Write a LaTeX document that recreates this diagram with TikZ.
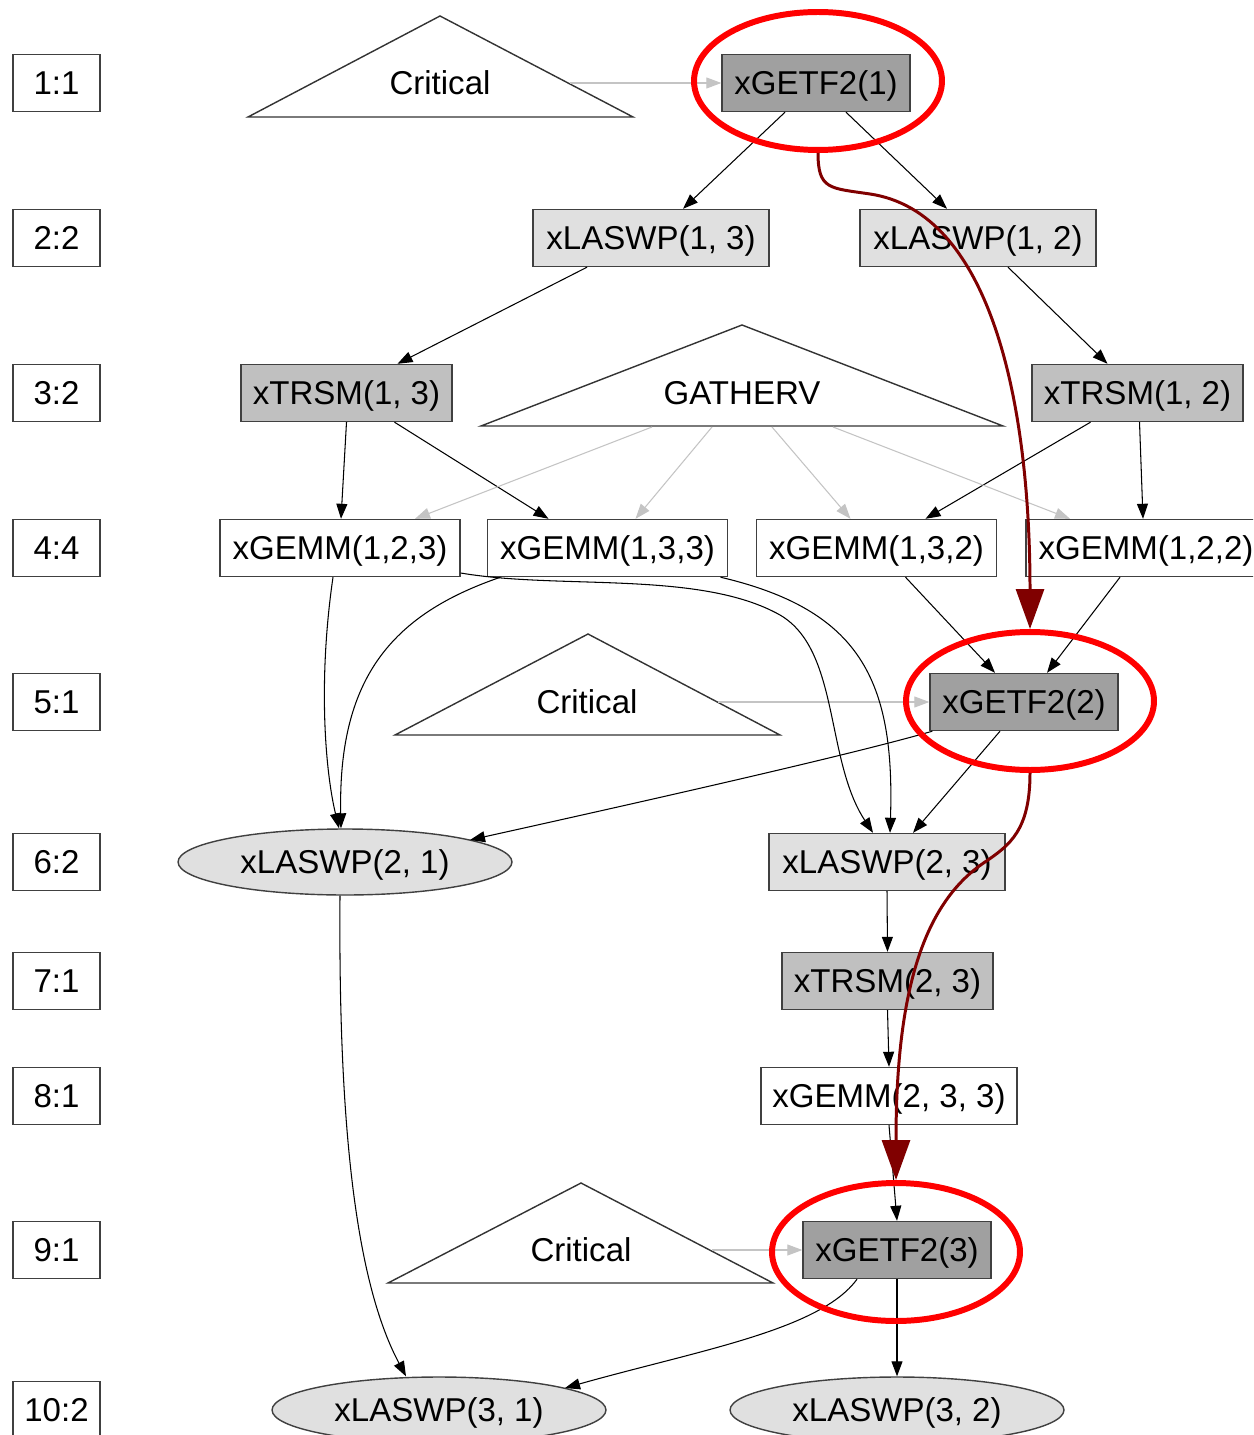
\documentclass[tikz,border=0pt]{standalone}
\usepackage{fontspec}
\setmainfont{Liberation Sans}
\usetikzlibrary{arrows.meta,calc,shapes.geometric}

\definecolor{getfgray}{HTML}{A0A0A0}
\definecolor{trsmgray}{HTML}{C0C0C0}
\definecolor{laswpgray}{HTML}{E0E0E0}
\definecolor{ghost}{HTML}{C4C4C4}
\definecolor{pathred}{HTML}{800000}

\begin{document}
\begin{tikzpicture}[x=0.02cm,y=-0.02cm,
  font=\fontsize{18.8pt}{22pt}\selectfont,
  every node/.style={text height=17.3pt, text depth=3.8pt},
  task/.style={draw=black!75, line width=0.8pt, rectangle, inner sep=0pt, minimum height=1.14cm},
  getf/.style={task, fill=getfgray, minimum width=3.76cm},
  laswpbox/.style={task, fill=laswpgray, minimum width=4.72cm},
  laswpell/.style={draw=black!75, line width=0.8pt, ellipse, fill=laswpgray, inner sep=0pt,
                   minimum width=6.68cm, minimum height=1.32cm},
  trsm/.style={task, fill=trsmgray, minimum width=4.22cm},
  gemm/.style={task, fill=white, minimum width=4.8cm},
  rowlabel/.style={task, fill=white, minimum width=1.74cm},
  tri/.style={draw=black!80, line width=0.8pt},
  edge/.style={black, line width=0.6pt, -{Triangle[length=0.3cm,width=0.22cm]}},
  ghostedge/.style={edge, ghost},
  ring/.style={draw=red, line width=3.4pt, ellipse, inner sep=0pt,
               minimum width=4.96cm, minimum height=2.76cm},
  critpath/.style={pathred, line width=1.7pt, -{Triangle[length=0.8cm,width=0.56cm]}}]

\useasboundingbox (0,0) rectangle (1253,1435);
\clip (0,0) rectangle (1253,1435);
\fill[white] (0,0) rectangle (1253,1435);

% level labels
\node[rowlabel] (r1) at (56.5,83) {1:1};
\node[rowlabel] (r2) at (56.5,238) {2:2};
\node[rowlabel] (r3) at (56.5,393) {3:2};
\node[rowlabel] (r4) at (56.5,548) {4:4};
\node[rowlabel] (r5) at (56.5,702) {5:1};
\node[rowlabel] (r6) at (56.5,862) {6:2};
\node[rowlabel] (r7) at (56.5,981) {7:1};
\node[rowlabel] (r8) at (56.5,1096) {8:1};
\node[rowlabel] (r9) at (56.5,1250) {9:1};
\node[rowlabel] (r10) at (56.5,1410) {10:2};

% triangle markers
\node (crit1) at (440,83) {Critical};
\draw[tri] ($(crit1)+(0,-67)$) -- ($(crit1)+(193,34)$) -- ($(crit1)+(-192,34)$) -- cycle;
\node (gatherv) at (742,393) {GATHERV};
\draw[tri] ($(gatherv)+(0,-68)$) -- ($(gatherv)+(261,33)$) -- ($(gatherv)+(-261,33)$) -- cycle;
\node (crit2) at (587,702) {Critical};
\draw[tri] ($(crit2)+(1,-68)$) -- ($(crit2)+(193,33)$) -- ($(crit2)+(-192,33)$) -- cycle;
\node (crit3) at (581,1250) {Critical};
\draw[tri] ($(crit3)+(0,-67)$) -- ($(crit3)+(192,33)$) -- ($(crit3)+(-193,33)$) -- cycle;

% tasks
\node[getf] (getf1) at (816,83) {xGETF2(1)};
\node[laswpbox] (laswp13) at (651,238) {xLASWP(1, 3)};
\node[laswpbox] (laswp12) at (978,238) {xLASWP(1, 2)};
\node[trsm] (trsm13) at (346.5,393) {xTRSM(1, 3)};
\node[trsm] (trsm12) at (1137.5,393) {xTRSM(1, 2)};
\node[gemm] (gemm123) at (340,548) {xGEMM(1,2,3)};
\node[gemm] (gemm133) at (607.5,548) {xGEMM(1,3,3)};
\node[gemm] (gemm132) at (876.5,548) {xGEMM(1,3,2)};
\node[gemm] (gemm122) at (1146,548) {xGEMM(1,2,2)};
\node[getf] (getf2) at (1024,702) {xGETF2(2)};
\node[laswpell] (laswp21) at (345,862) {xLASWP(2, 1)};
\node[laswpbox] (laswp23) at (887,862) {xLASWP(2, 3)};
\node[trsm] (trsm23) at (887.5,981) {xTRSM(2, 3)};
\node[gemm, minimum width=5.12cm] (gemm233) at (889,1096) {xGEMM(2, 3, 3)};
\node[getf] (getf3) at (897,1250) {xGETF2(3)};
\node[laswpell] (laswp31) at (439,1410) {xLASWP(3, 1)};
\node[laswpell] (laswp32) at (897,1410) {xLASWP(3, 2)};

% dependencies
\draw[edge] ($(getf1.south)+(-31,0)$) -- ($(laswp13.north)+(32,0)$);
\draw[edge] ($(getf1.south)+(30,0)$) -- ($(laswp12.north)+(-31,0)$);
\draw[edge] ($(laswp13.south)+(-64,0)$) -- ($(trsm13.north)+(51,0)$);
\draw[edge] ($(laswp12.south)+(30,0)$) -- ($(trsm12.north)+(-30,0)$);
\draw[edge] (trsm13.south) -- ($(gemm123.north)+(1,0)$);
\draw[edge] ($(trsm13.south)+(48,0)$) -- ($(gemm133.north)+(-59,0)$);
\draw[edge] ($(trsm12.south)+(-47,0)$) -- ($(gemm132.north)+(49,0)$);
\draw[edge] ($(trsm12.south)+(2,0)$) -- ($(gemm122.north)+(-3,0)$);

\draw[ghostedge] ($(gatherv)+(-90,34)$) -- ($(gemm123.north)+(75,0)$);
\draw[ghostedge] ($(gatherv)+(-30,34)$) -- ($(gemm133.north)+(28,0)$);
\draw[ghostedge] ($(gatherv)+(30,34)$) -- ($(gemm132.north)+(-26,0)$);
\draw[ghostedge] ($(gatherv)+(91,34)$) -- ($(gemm122.north)+(-76,0)$);

\draw[ghostedge] ($(crit1)+(130,0)$) -- (getf1.west);
\draw[ghostedge] ($(crit2)+(131,0)$) -- (getf2.west);
\draw[ghostedge] ($(crit3)+(131,0)$) -- (getf3.west);

\draw[edge] ($(gemm132.south)+(29,0)$) -- ($(getf2.north)+(-29,0)$);
\draw[edge] ($(gemm122.south)+(-26,0)$) -- ($(getf2.north)+(23,0)$);

\draw[edge] ($(gemm123.south)+(-7,0)$) .. controls (318,680) and (325,770) .. ($(laswp21.north)+(-6,0)$);
\draw[edge] ($(gemm133.south)+(-107,0)$) .. controls (390,615) and (338,680) .. ($(laswp21.north)+(-4,0)$);
\draw[edge] ($(getf2.south west)+(3,0)$) .. controls (850,755) and (650,800) .. ($(laswp21)+(125,-22)$);

\draw[edge] ($(gemm123.east)+(0,25)$) .. controls (560,590) and (700,570) .. (780,615)
            .. controls (840,650) and (825,760) .. ($(laswp23.north)+(-14,0)$);
\draw[edge] ($(gemm133.south)+(113,0)$) .. controls (860,610) and (895,680) .. ($(laswp23.north)+(3,0)$);
\draw[edge] ($(getf2.south)+(-24,0)$) -- ($(laswp23.north)+(26,0)$);

\draw[edge] (laswp23.south) -- (trsm23.north);
\draw[edge] (trsm23.south) -- (gemm233.north);
\draw[edge] (gemm233.south) -- (getf3.north);

\draw[edge] ($(laswp21.south)+(-5,0)$) .. controls (338,1150) and (360,1290) .. ($(laswp31.north)+(-33,0)$);
\draw[edge] ($(getf3.south)+(-40,0)$) .. controls (820,1330) and (700,1350) .. ($(laswp31)+(126,-22)$);
\draw[edge] (getf3.south) -- (laswp32.north);

% critical path highlight
\node[ring] (ring1) at (818,81) {};
\node[ring] (ring2) at (1030,701) {};
\node[ring] (ring3) at (896,1252) {};

\draw[critpath] (ring1.south) .. controls (818,190) and (830,188) .. (870,194)
                .. controls (990,212) and (1030,400) .. (ring2.north);
\draw[critpath] (ring2.south) .. controls (1030,830) and (1010,845) .. (985,862)
                .. controls (920,905) and (896,1000) .. (ring3.north);
\end{tikzpicture}
\end{document}
